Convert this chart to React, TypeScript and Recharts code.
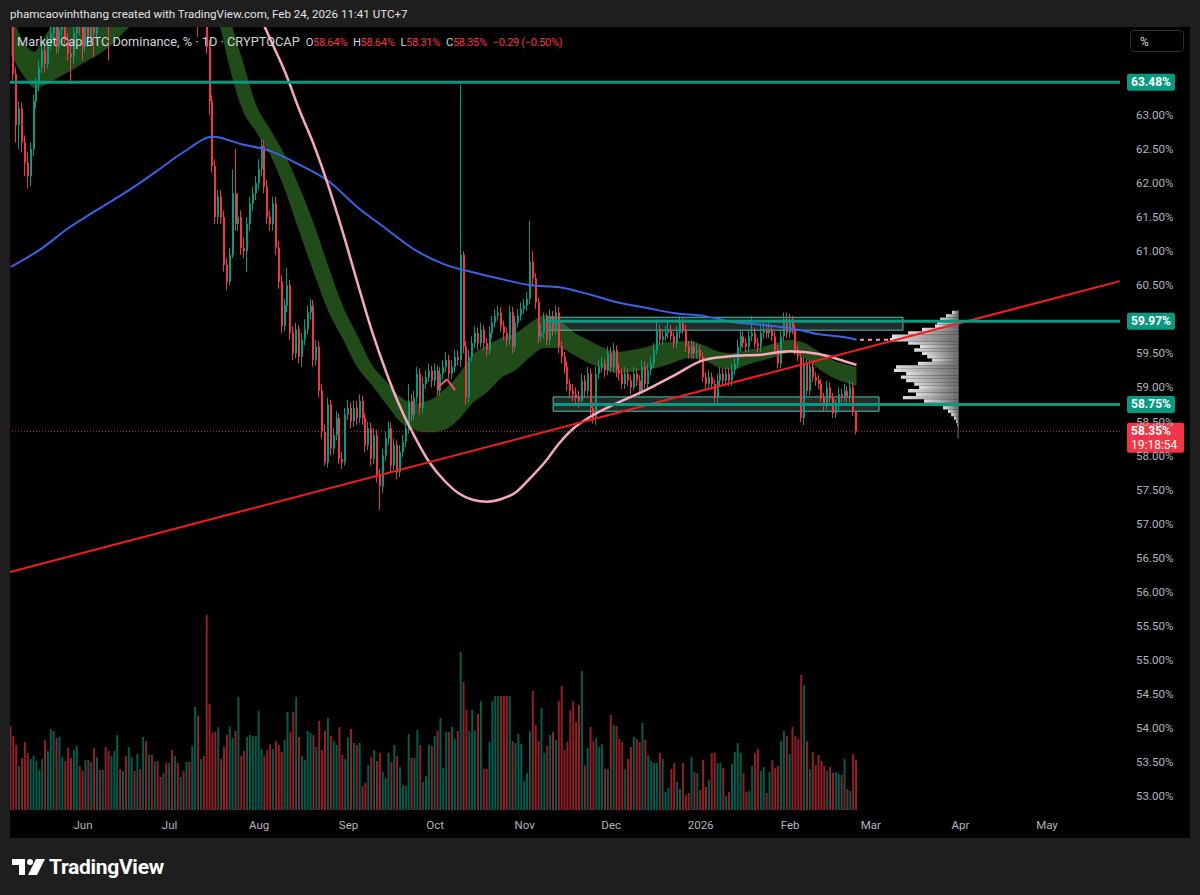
import React from "react";
import {
  ComposedChart,
  Bar,
  Line,
  Area,
  XAxis,
  YAxis,
  ReferenceLine,
  ReferenceArea,
  Cell,
} from "recharts";

// Daily candles, first bar = 2025-05-07
const START = "2025-05-07";
const FIRST_OPEN = 64.6;

const closes = [
  64.4, 63.6, 62.85, 63.1, 62.6, 62.3, 62.1, 62.5, 63.2, 63.45,
  63.7, 63.95, 63.75, 64.05, 64.2, 64.35, 64.0, 64.25, 64.45, 64.1,
  63.9, 63.85, 64.2, 64.5, 64.3, 64.0, 64.35, 64.1, 64.45, 64.2,
  64.55, 64.4, 64.7, 64.5, 64.4, 64.75, 64.9, 65.1, 65.0, 65.3,
  65.2, 65.45, 65.6, 65.4, 65.7, 65.55, 65.8, 65.6, 65.75, 65.5,
  65.65, 65.4, 65.3, 65.5, 65.2, 65.35, 65.1, 65.25, 65.0, 65.15,
  64.9, 65.05, 64.8, 65.0, 65.2, 64.6, 64.9, 64.7, 64.0, 63.2,
  62.25, 61.5, 61.8, 61.5, 60.8, 60.55, 60.95, 61.85, 61.4, 61.5,
  61.05, 61.0, 61.4, 61.7, 61.85, 62.0, 62.2, 62.55, 61.95, 61.5,
  61.4, 61.7, 61.05, 60.55, 59.9, 60.2, 60.5, 59.8, 59.5, 59.85,
  59.45, 59.7, 59.85, 60.1, 60.2, 59.4, 59.6, 58.95, 58.35, 57.9,
  58.75, 58.1, 58.3, 58.55, 57.95, 57.9, 58.6, 58.7, 58.5, 58.7,
  58.55, 58.8, 58.55, 58.15, 58.4, 57.95, 58.3, 57.7, 57.55, 58.0,
  58.25, 58.4, 57.85, 58.15, 57.75, 58.05, 58.2, 58.4, 58.8, 58.6,
  58.85, 59.2, 58.7, 59.05, 59.15, 59.25, 59.1, 59.25, 58.95, 59.2,
  59.3, 59.4, 59.2, 59.3, 59.45, 59.4, 60.95, 59.6, 58.85, 59.45,
  59.65, 59.8, 59.65, 59.85, 59.65, 59.55, 59.8, 59.95, 60.05, 60.1,
  59.9, 59.8, 59.7, 60.1, 59.6, 59.95, 60.05, 60.15, 60.2, 60.3,
  60.85, 60.6, 60.25, 59.75, 59.8, 60.0, 59.7, 60.05, 59.85, 60.1,
  59.6, 59.45, 59.3, 59.05, 58.95, 58.9, 58.85, 58.8, 59.1, 58.95,
  59.2, 58.7, 58.55, 59.2, 59.3, 59.35, 59.25, 59.5, 59.3, 59.55,
  59.25, 59.2, 59.05, 59.2, 59.1, 59.0, 59.2, 59.1, 58.95, 59.3,
  59.05, 59.25, 59.35, 59.55, 59.85, 59.7, 59.75, 59.8, 59.85, 59.75,
  59.65, 59.8, 59.95, 59.85, 59.6, 59.5, 59.6, 59.5, 59.55, 59.45,
  59.15, 59.05, 59.15, 59.05, 58.85, 59.1, 59.2, 59.1, 59.2, 59.1,
  59.25, 59.35, 59.6, 59.75, 59.65, 59.6, 59.75, 59.8, 59.65, 59.6,
  59.8, 59.85, 59.8, 59.85, 59.75, 59.55, 59.35, 59.75, 60.0, 59.8,
  60.0, 59.85, 59.55, 59.45, 58.55, 59.35, 58.95, 59.3, 59.15, 59.1,
  59.05, 58.85, 58.75, 59.0, 58.85, 58.62, 58.72, 58.9, 58.85, 58.95,
  58.85, 59.0, 58.64, 58.35,
];

const highs = [
  64.9, 64.5, 63.7, 63.2, 63.18, 62.7, 62.45, 62.6, 63.3, 63.55,
  63.8, 64.05, 64.05, 64.15, 64.32, 64.5, 64.45, 64.35, 64.55, 64.55,
  64.2, 64.05, 64.3, 64.62, 64.6, 64.4, 64.45, 64.45, 64.55, 64.55,
  64.65, 64.68, 64.8, 64.8, 64.62, 64.85, 65.02, 65.2, 65.22, 65.4,
  65.42, 65.55, 65.72, 65.7, 65.82, 65.8, 65.95, 65.9, 65.88, 65.82,
  65.75, 65.72, 65.5, 65.6, 65.58, 65.45, 65.42, 65.35, 65.32, 65.25,
  65.22, 65.15, 65.12, 65.1, 65.3, 65.28, 65.0, 65.0, 64.8, 64.1,
  63.3, 62.35, 61.9, 61.9, 61.6, 60.9, 61.05, 62.2, 62.5, 61.85,
  61.6, 61.2, 61.5, 61.8, 61.95, 62.1, 62.35, 62.65, 62.63, 62.05,
  61.6, 61.8, 61.8, 61.15, 60.65, 60.3, 60.75, 60.58, 59.9, 59.95,
  59.92, 59.8, 60.0, 60.2, 60.3, 60.28, 59.7, 59.68, 59.05, 58.45,
  58.85, 58.82, 58.4, 58.65, 58.62, 58.05, 58.7, 58.82, 58.78, 58.8,
  58.8, 58.9, 58.88, 58.62, 58.5, 58.48, 58.4, 58.38, 57.8, 58.1,
  58.35, 58.5, 58.48, 58.25, 58.22, 58.15, 58.3, 58.5, 59.05, 58.9,
  58.95, 59.3, 59.28, 59.15, 59.25, 59.35, 59.32, 59.35, 59.32, 59.3,
  59.4, 59.52, 59.48, 59.4, 59.55, 59.55, 63.44, 61.0, 59.68, 59.55,
  59.75, 59.9, 59.88, 59.95, 59.92, 59.72, 59.9, 60.05, 60.15, 60.2,
  60.18, 59.98, 59.88, 60.2, 60.18, 60.05, 60.15, 60.25, 60.3, 60.4,
  61.45, 61.0, 60.68, 60.32, 59.92, 60.1, 60.08, 60.15, 60.12, 60.2,
  60.18, 59.68, 59.52, 59.38, 59.12, 59.05, 59.0, 58.95, 59.2, 59.18,
  59.3, 59.28, 58.78, 59.3, 59.4, 59.45, 59.42, 59.6, 59.58, 59.65,
  59.62, 59.35, 59.28, 59.3, 59.28, 59.18, 59.3, 59.28, 59.18, 59.4,
  59.38, 59.35, 59.45, 59.65, 60.0, 59.92, 59.85, 59.9, 59.95, 59.92,
  59.82, 59.9, 60.05, 60.02, 59.92, 59.68, 59.7, 59.68, 59.65, 59.62,
  59.52, 59.22, 59.25, 59.22, 59.12, 59.2, 59.3, 59.28, 59.3, 59.28,
  59.35, 59.45, 59.7, 59.85, 59.82, 59.72, 59.85, 60.05, 59.88, 59.72,
  59.9, 59.95, 59.92, 59.95, 59.92, 59.82, 59.62, 59.85, 60.1, 60.1,
  60.08, 60.05, 59.92, 59.62, 59.52, 59.45, 59.42, 59.4, 59.38, 59.22,
  59.18, 59.12, 58.92, 59.1, 59.08, 58.92, 58.82, 59.0, 58.98, 59.05,
  59.02, 59.1, 59.08, 58.64,
];

const lows = [
  64.25, 63.5, 62.6, 62.5, 62.45, 62.1, 61.92, 61.95, 62.4, 63.1,
  63.35, 63.62, 63.62, 63.68, 63.95, 64.1, 63.9, 63.92, 64.15, 64.0,
  63.8, 63.5, 63.75, 64.1, 64.18, 63.8, 63.92, 64.0, 64.02, 63.85,
  64.12, 64.3, 64.32, 64.4, 63.8, 64.32, 64.65, 64.8, 64.9, 64.92,
  65.1, 65.12, 65.35, 65.3, 65.32, 65.45, 65.48, 65.5, 65.52, 65.4,
  65.42, 65.3, 65.2, 65.22, 65.1, 65.12, 65.0, 65.02, 64.9, 64.92,
  64.8, 64.82, 64.7, 64.72, 64.92, 64.15, 64.5, 64.6, 63.9, 63.0,
  62.15, 61.4, 61.4, 61.4, 60.7, 60.43, 60.5, 60.9, 61.3, 61.3,
  60.95, 60.9, 60.7, 61.3, 61.6, 61.75, 61.9, 62.1, 61.85, 61.4,
  61.3, 61.3, 60.95, 60.45, 59.8, 59.82, 60.1, 59.7, 59.4, 59.42,
  59.35, 59.3, 59.62, 59.78, 60.0, 59.3, 59.32, 58.85, 58.25, 57.85,
  57.82, 58.0, 58.02, 58.22, 57.88, 57.8, 57.85, 58.52, 58.4, 58.42,
  58.45, 58.48, 58.45, 58.05, 58.08, 57.85, 57.88, 57.6, 57.2, 57.45,
  57.92, 58.15, 57.75, 57.78, 57.65, 57.68, 57.98, 58.12, 58.32, 58.5,
  58.52, 58.78, 58.6, 58.62, 58.98, 59.08, 59.0, 59.02, 58.88, 58.88,
  59.12, 59.22, 59.12, 59.12, 59.22, 59.32, 59.3, 59.5, 58.75, 58.78,
  59.38, 59.58, 59.55, 59.58, 59.55, 59.45, 59.48, 59.72, 59.88, 59.98,
  59.82, 59.7, 59.6, 59.62, 59.5, 59.52, 59.88, 59.98, 60.08, 60.12,
  60.22, 60.5, 60.15, 59.65, 59.68, 59.72, 59.62, 59.62, 59.75, 59.78,
  59.5, 59.35, 59.2, 58.95, 58.85, 58.8, 58.75, 58.7, 58.72, 58.85,
  58.88, 58.6, 58.47, 58.45, 59.12, 59.22, 59.15, 59.18, 59.22, 59.22,
  59.15, 59.1, 58.98, 58.98, 59.02, 58.9, 58.95, 59.02, 58.88, 58.9,
  58.98, 58.98, 59.18, 59.28, 59.48, 59.62, 59.62, 59.68, 59.72, 59.68,
  59.58, 59.58, 59.72, 59.78, 59.52, 59.42, 59.42, 59.42, 59.42, 59.38,
  59.08, 58.98, 58.98, 58.98, 58.75, 58.78, 59.02, 59.02, 59.02, 59.02,
  59.02, 59.18, 59.28, 59.52, 59.58, 59.52, 59.52, 59.68, 59.58, 59.52,
  59.52, 59.72, 59.72, 59.72, 59.68, 59.48, 59.28, 59.28, 59.68, 59.72,
  59.72, 59.78, 59.48, 59.38, 58.49, 58.45, 58.88, 58.88, 59.08, 59.02,
  58.98, 58.78, 58.65, 58.68, 58.78, 58.55, 58.55, 58.65, 58.78, 58.78,
  58.78, 58.78, 58.58, 58.31,
];

const volumes = [
  84, 74, 65, 44, 52, 68, 57, 51, 54, 49,
  40, 51, 70, 59, 81, 79, 72, 73, 53, 49,
  62, 52, 60, 64, 44, 39, 50, 50, 48, 62,
  53, 40, 40, 63, 59, 54, 59, 75, 41, 39,
  54, 63, 53, 39, 56, 41, 73, 69, 55, 55,
  48, 49, 33, 37, 47, 47, 60, 54, 47, 33,
  39, 48, 48, 64, 103, 94, 51, 54, 195, 106,
  77, 78, 83, 51, 63, 75, 83, 72, 79, 113,
  54, 59, 73, 75, 74, 74, 99, 61, 54, 60,
  66, 61, 69, 65, 58, 70, 98, 78, 98, 113,
  73, 54, 50, 79, 77, 75, 63, 89, 60, 79,
  92, 74, 69, 65, 83, 55, 51, 73, 81, 67,
  65, 67, 24, 27, 45, 53, 60, 49, 57, 38,
  32, 57, 48, 65, 54, 43, 25, 24, 76, 52,
  52, 80, 65, 28, 34, 65, 64, 74, 79, 92,
  42, 78, 78, 83, 71, 79, 158, 128, 100, 79,
  100, 79, 96, 109, 41, 41, 68, 109, 114, 114,
  114, 114, 114, 114, 69, 67, 76, 66, 29, 37,
  79, 119, 85, 69, 102, 57, 64, 75, 78, 70,
  109, 124, 60, 68, 100, 109, 88, 105, 139, 45,
  62, 83, 69, 72, 63, 66, 41, 41, 95, 85,
  84, 71, 68, 41, 51, 63, 73, 71, 68, 87,
  70, 55, 49, 47, 47, 57, 51, 18, 22, 41,
  47, 28, 21, 47, 15, 17, 53, 38, 37, 20,
  50, 23, 30, 57, 57, 47, 47, 42, 14, 18,
  46, 58, 67, 57, 37, 18, 19, 44, 57, 61,
  39, 43, 17, 38, 50, 42, 44, 69, 79, 74,
  56, 83, 74, 71, 135, 125, 69, 41, 58, 45,
  55, 49, 44, 39, 43, 37, 38, 36, 35, 51,
  21, 19, 56, 50,
];

// slow moving average (blue)
const blueDays = [0, 10, 20, 30, 40, 50, 60, 70, 80, 90, 100, 110, 120, 130, 140, 150, 160, 170, 180, 190, 200, 210, 220, 230, 240, 250, 260, 270, 280, 290, 293];
const blueVals = [60.77, 61.02, 61.34, 61.61, 61.87, 62.16, 62.46, 62.68, 62.57, 62.47, 62.27, 62.03, 61.65, 61.33, 61.02, 60.81, 60.69, 60.59, 60.5, 60.47, 60.37, 60.25, 60.17, 60.09, 60.05, 59.96, 59.92, 59.87, 59.78, 59.73, 59.7];

// pink curve
const pinkDays = [80, 88, 90, 95, 100, 105, 110, 115, 120, 125, 130, 135, 140, 145, 150, 155, 160, 165, 170, 175, 180, 185, 190, 195, 200, 210, 220, 230, 240, 250, 260, 270, 280, 290, 293];
const pinkVals = [65.1, 64.29, 64.1, 63.63, 63.07, 62.56, 61.96, 61.28, 60.55, 59.84, 59.23, 58.7, 58.27, 57.9, 57.64, 57.45, 57.35, 57.32, 57.36, 57.46, 57.67, 57.9, 58.18, 58.4, 58.55, 58.77, 58.96, 59.18, 59.4, 59.46, 59.48, 59.53, 59.49, 59.37, 59.33];

// green ribbon
const bandDays = [0, 5, 8, 12, 16, 20, 25, 30, 35, 40, 50, 60, 68, 72, 76, 80, 85, 90, 95, 100, 105, 110, 115, 120, 125, 130, 135, 140, 145, 150, 155, 160, 165, 170, 175, 180, 185, 190, 195, 200, 205, 210, 215, 220, 225, 230, 235, 240, 245, 250, 255, 260, 265, 270, 275, 280, 285, 290, 293];
const bandUpper = [64.5, 64.03, 63.93, 64.17, 64.45, 64.6, 64.7, 64.8, 64.9, 65.0, 65.3, 65.4, 65.3, 65.0, 64.4, 63.84, 63.15, 62.78, 62.41, 61.94, 61.4, 60.78, 60.2, 59.77, 59.34, 59.09, 58.86, 58.77, 58.81, 58.96, 59.18, 59.48, 59.62, 59.73, 59.8, 59.95, 60.06, 59.99, 59.81, 59.7, 59.59, 59.52, 59.55, 59.59, 59.65, 59.67, 59.68, 59.62, 59.53, 59.5, 59.55, 59.59, 59.65, 59.7, 59.65, 59.52, 59.4, 59.33, 59.3];
const bandLower = [63.88, 63.54, 63.4, 63.44, 63.54, 63.63, 63.76, 63.88, 64.03, 64.25, 64.6, 64.8, 64.6, 64.35, 63.66, 63.1, 62.75, 62.4, 61.9, 61.28, 60.68, 60.12, 59.71, 59.3, 59.04, 58.76, 58.49, 58.37, 58.34, 58.37, 58.52, 58.77, 58.93, 59.14, 59.26, 59.45, 59.58, 59.58, 59.48, 59.36, 59.28, 59.21, 59.23, 59.26, 59.3, 59.37, 59.43, 59.4, 59.3, 59.26, 59.33, 59.39, 59.45, 59.5, 59.43, 59.27, 59.14, 59.06, 59.02];

// drawings
const LEVEL_TOP = 63.48;
const LEVEL_MID = 59.97;
const LEVEL_LOW = 58.75;
const LAST_PRICE = 58.35;
const boxes = [
  { from: 185.8, to: 309.1, lo: 59.84, hi: 60.03 },
  { from: 187.9, to: 300.8, lo: 58.65, hi: 58.86 },
];
const trendFrom = { day: -0.3, price: 56.29 };
const trendTo = { day: 384.3, price: 60.56 };
const chevron = [
  { day: 147.7, price: 58.99 },
  { day: 151.1, price: 59.12 },
  { day: 153.9, price: 58.96 },
];

// volume profile: rows anchored at day 328.2, lengths in day units
const PROFILE_END = 328.2;
const profilePrices = [60.1, 60.05, 60.0, 59.95, 59.9, 59.85, 59.8, 59.75, 59.7, 59.65, 59.6, 59.55, 59.5, 59.45, 59.4, 59.35, 59.3, 59.25, 59.2, 59.15, 59.1, 59.05, 59.0, 58.95, 58.9, 58.85, 58.8, 58.75, 58.7, 58.65, 58.6, 58.55, 58.5, 58.45];
const profileLengths = [2.1, 4.2, 6.2, 7.3, 8.0, 12.5, 17.3, 22.9, 23.6, 17.3, 13.2, 15.2, 12.5, 10.7, 9.0, 13.9, 21.5, 22.2, 18.0, 19.8, 18.0, 15.2, 13.5, 17.3, 14.6, 19.1, 11.8, 7.6, 5.2, 3.5, 2.4, 1.4, 0.7, 0.35];

const monthDates = ["2025-06-01", "2025-07-01", "2025-08-01", "2025-09-01", "2025-10-01", "2025-11-01", "2025-12-01", "2026-01-01", "2026-02-01", "2026-03-01", "2026-04-01", "2026-05-01"];
const monthLabels = ["Jun", "Jul", "Aug", "Sep", "Oct", "Nov", "Dec", "2026", "Feb", "Mar", "Apr", "May"];
const priceTicks = [53, 53.5, 54, 54.5, 55, 55.5, 56, 56.5, 57, 57.5, 58, 58.5, 59, 59.5, 60.5, 61, 61.5, 62, 62.5, 63];

const HEADER = "phamcaovinhthang created with TradingView.com, Feb 24, 2026 11:41 UTC+7";
const TITLE = "Market Cap BTC Dominance, % · 1D · CRYPTOCAP";
const OHLC = [["O", "58.64%"], ["H", "58.64%"], ["L", "58.31%"], ["C", "58.35%"]];
const CHANGE = "−0.29 (−0.50%)";
const COUNTDOWN = "19:18:54";

const UP = "#089981";
const DOWN = "#f23645";
const FONT = "Roboto, 'Noto Sans', sans-serif";

const dayIndex = (d: string) =>
  Math.round((Date.parse(d) - Date.parse(START)) / 86400000);
const monthTicks = monthDates.map(dayIndex);

const rows: any[] = closes.map((c, i) => {
  const o = i === 0 ? FIRST_OPEN : closes[i - 1];
  return { i, open: o, close: c, range: [lows[i], highs[i]], vol: volumes[i], up: c >= o };
});
blueDays.forEach((d, k) => (rows[d].blue = blueVals[k]));
pinkDays.forEach((d, k) => (rows[d].pink = pinkVals[k]));
bandDays.forEach((d, k) => (rows[d].band = [bandLower[k], bandUpper[k]]));

function Candle(props: any) {
  const { x, y, width, height, payload } = props;
  if (!payload || height == null) return null;
  const [lo, hi] = payload.range;
  const span = hi - lo || 1e-6;
  const yAt = (v: number) => y + ((hi - v) / span) * height;
  const color = payload.up ? UP : DOWN;
  const c = Math.round(x + width / 2);
  const top = yAt(Math.max(payload.open, payload.close));
  const bot = yAt(Math.min(payload.open, payload.close));
  return (
    <g>
      <rect x={c - 1} y={y} width={1} height={Math.max(1, height)} fill={color} />
      <rect x={c - 1} y={top} width={2} height={Math.max(1, bot - top)} fill={color} />
    </g>
  );
}

function MonthTick(props: any) {
  const { x, payload } = props;
  const label = monthLabels[monthTicks.indexOf(payload.value)] ?? "";
  // axis sits on the bottom edge of the plot (783px tall)
  return (
    <text x={x} y={802} textAnchor="middle" fill="#b2b5be" fontSize={11.5} fontFamily={FONT}>
      {label}
    </text>
  );
}

const tag = (text: string, bg: string, sub?: string) => (props: any) => {
  const vb = props.viewBox || {};
  const x = vb.x + vb.width + 7;
  const top = sub ? vb.y - 9 : vb.y - 8.5;
  return (
    <g>
      <rect x={x} y={top} width={sub ? 57 : 48} height={sub ? 30 : 17} rx={2} fill={bg} />
      <text x={x + 4} y={top + 12.5} fill="#fff" fontSize={12} fontWeight={700} fontFamily={FONT}>
        {text}
      </text>
      {sub ? (
        <text x={x + 4} y={top + 26} fill="#fff" fontSize={12} fontFamily={FONT}>
          {sub}
        </text>
      ) : null}
    </g>
  );
};

function Logo() {
  return (
    <div style={{ position: "absolute", left: 12, top: 855, height: 24, display: "flex", alignItems: "center", color: "#fff" }}>
      <svg width={34} height={18} viewBox="0 0 34 18">
        <path d="M0 1h13v16h-6V7H0z" fill="#fff" />
        <circle cx={18} cy={4} r={3} fill="#fff" />
        <path d="M24 1h9l-8 16h-9z" fill="#fff" />
      </svg>
      <span style={{ fontFamily: FONT, fontWeight: 700, fontSize: 21, lineHeight: "24px", marginLeft: 3, letterSpacing: -0.3 }}>
        TradingView
      </span>
    </div>
  );
}

export default function App() {
  return (
    <div
      style={{
        position: "fixed",
        left: 0,
        top: 0,
        width: 1200,
        height: 895,
        background: "#1e1e1e",
        overflow: "hidden",
        fontFamily: FONT,
      }}
    >
      <div style={{ position: "absolute", left: 10, top: 0, height: 27, lineHeight: "29px", fontSize: 11.6, color: "#e3e3e3", whiteSpace: "nowrap" }}>
        {HEADER}
      </div>
      <div style={{ position: "absolute", left: 10, top: 27, width: 1180, height: 811, background: "#000" }}>
        <ComposedChart width={1180} height={811} data={rows} margin={{ top: 0, right: 0, bottom: 0, left: 0 }}>
          <defs>
            <linearGradient id="vpGrad" x1="0" y1="0" x2="1" y2="0">
              <stop offset="0%" stopColor="#ececec" />
              <stop offset="100%" stopColor="#707070" />
            </linearGradient>
          </defs>
          <XAxis
            xAxisId="x"
            dataKey="i"
            type="number"
            domain={[-0.3, 384.3]}
            allowDataOverflow
            ticks={monthTicks}
            interval={0}
            axisLine={false}
            tickLine={false}
            tickSize={0}
            tickMargin={0}
            height={28}
            tick={<MonthTick />}
          />
          <XAxis
            xAxisId="vx"
            dataKey="i"
            type="number"
            orientation="top"
            height={0}
            domain={[-0.3, 384.3]}
            allowDataOverflow
            hide
          />
          <YAxis
            yAxisId="p"
            orientation="right"
            domain={[52.794, 64.292]}
            allowDataOverflow
            ticks={priceTicks}
            interval={0}
            width={70}
            axisLine={false}
            tickLine={false}
            tickSize={0}
            tickMargin={16}
            tickFormatter={(v) => `${Number(v).toFixed(2)}%`}
            tick={{ fill: "#b2b5be", fontSize: 11.5, fontFamily: FONT }}
          />
          <YAxis yAxisId="vol" domain={[0, 783]} allowDataOverflow hide />

          <Bar xAxisId="vx" yAxisId="vol" dataKey="vol" barSize={2} isAnimationActive={false}>
            {rows.map((r) => (
              <Cell key={r.i} fill={r.up ? UP : DOWN} fillOpacity={0.6} />
            ))}
          </Bar>

          <Area
            xAxisId="x"
            yAxisId="p"
            dataKey="band"
            type="monotone"
            connectNulls
            stroke="none"
            fill="#27591f"
            fillOpacity={0.85}
            dot={false}
            activeDot={false}
            isAnimationActive={false}
          />

          {boxes.map((b, k) => (
            <ReferenceArea
              key={`box${k}`}
              xAxisId="x"
              yAxisId="p"
              x1={b.from}
              x2={b.to}
              y1={b.lo}
              y2={b.hi}
              fill="#6b7a74"
              fillOpacity={0.35}
              stroke="#4fc3b4"
              strokeWidth={1}
            />
          ))}

          <Bar xAxisId="x" yAxisId="p" dataKey="range" barSize={2} shape={<Candle />} isAnimationActive={false} />

          <Line
            xAxisId="x"
            yAxisId="p"
            dataKey="blue"
            type="monotone"
            connectNulls
            stroke="#3a63e8"
            strokeWidth={2}
            dot={false}
            activeDot={false}
            isAnimationActive={false}
          />
          <Line
            xAxisId="x"
            yAxisId="p"
            dataKey="pink"
            type="monotone"
            connectNulls
            stroke="#f6a9bb"
            strokeWidth={2.5}
            dot={false}
            activeDot={false}
            isAnimationActive={false}
          />

          <ReferenceLine
            xAxisId="x"
            yAxisId="p"
            segment={[
              { x: trendFrom.day, y: trendFrom.price },
              { x: trendTo.day, y: trendTo.price },
            ]}
            stroke="#f21d1d"
            strokeWidth={2}
          />
          <ReferenceLine
            xAxisId="x"
            yAxisId="p"
            segment={[
              { x: chevron[0].day, y: chevron[0].price },
              { x: chevron[1].day, y: chevron[1].price },
            ]}
            stroke="#f7525f"
            strokeWidth={2}
          />
          <ReferenceLine
            xAxisId="x"
            yAxisId="p"
            segment={[
              { x: chevron[1].day, y: chevron[1].price },
              { x: chevron[2].day, y: chevron[2].price },
            ]}
            stroke="#f7525f"
            strokeWidth={2}
          />
          <ReferenceLine
            xAxisId="x"
            yAxisId="p"
            segment={[
              { x: 294.2, y: blueVals[blueVals.length - 1] },
              { x: 305.7, y: blueVals[blueVals.length - 1] },
            ]}
            stroke="#f0a0a0"
            strokeWidth={2}
            strokeDasharray="4 4"
          />

          {profilePrices.map((p, k) => (
            <ReferenceArea
              key={`vp${k}`}
              xAxisId="x"
              yAxisId="p"
              x1={PROFILE_END - profileLengths[k]}
              x2={PROFILE_END}
              y1={p - 0.025}
              y2={p + 0.025}
              fill="url(#vpGrad)"
              fillOpacity={0.95}
              stroke="none"
            />
          ))}
          <ReferenceLine
            xAxisId="x"
            yAxisId="p"
            segment={[
              { x: PROFILE_END, y: 58.25 },
              { x: PROFILE_END, y: 60.14 },
            ]}
            stroke="#7a7a7a"
            strokeWidth={1}
          />

          <ReferenceLine xAxisId="x" yAxisId="p" y={LAST_PRICE} stroke={DOWN} strokeDasharray="1 2" strokeOpacity={0.8} label={tag("58.35%", DOWN, COUNTDOWN)} />
          <ReferenceLine xAxisId="x" yAxisId="p" y={LEVEL_TOP} stroke={UP} strokeWidth={3} label={tag("63.48%", UP)} />
          <ReferenceLine
            xAxisId="x"
            yAxisId="p"
            segment={[
              { x: boxes[0].from, y: LEVEL_MID },
              { x: 384.3, y: LEVEL_MID },
            ]}
            stroke={UP}
            strokeWidth={3}
            label={tag("59.97%", UP)}
          />
          <ReferenceLine
            xAxisId="x"
            yAxisId="p"
            segment={[
              { x: boxes[1].from, y: LEVEL_LOW },
              { x: 384.3, y: LEVEL_LOW },
            ]}
            stroke={UP}
            strokeWidth={3}
            label={tag("58.75%", UP)}
          />
        </ComposedChart>

        <div style={{ position: "absolute", left: 7, top: 7, fontSize: 12.8, lineHeight: "16px", color: "#d1d4dc", whiteSpace: "nowrap" }}>
          {TITLE}
          {OHLC.map(([k, v]) => (
            <span key={k} style={{ marginLeft: 6, fontSize: 11.2, letterSpacing: -0.4 }}>
              {k}
              <span style={{ color: DOWN }}>{v}</span>
            </span>
          ))}
          <span style={{ marginLeft: 6, fontSize: 11.2, letterSpacing: -0.4, color: DOWN }}>{CHANGE}</span>
        </div>
        <div
          style={{
            position: "absolute",
            left: 1120,
            top: 3,
            width: 54,
            height: 22,
            border: "1px solid #2a2e39",
            borderRadius: 4,
            color: "#d1d4dc",
            fontSize: 12,
            lineHeight: "22px",
            paddingLeft: 9,
            boxSizing: "border-box",
          }}
        >
          %
        </div>
      </div>
      <Logo />
    </div>
  );
}
